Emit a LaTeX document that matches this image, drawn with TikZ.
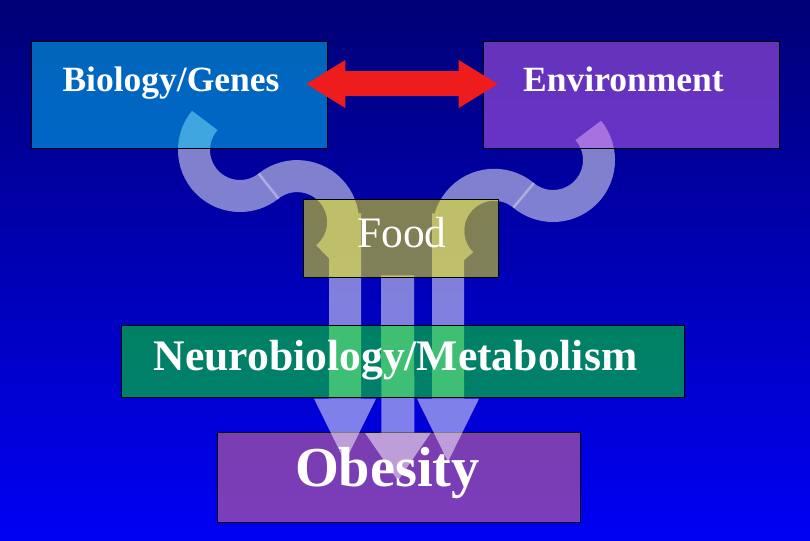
\documentclass[tikz,border=0pt]{standalone}
\usepackage{fontspec}
\setmainfont{Liberation Serif}
\usepackage{tikz}
\usetikzlibrary{arrows.meta, calc}
\pgfdeclarelayer{back}
\pgfsetlayers{back,main}
\definecolor{bgtop}{RGB}{0,0,118}
\definecolor{bgmid}{RGB}{0,0,205}
\definecolor{bgbot}{RGB}{0,0,245}
\definecolor{genecol}{RGB}{0,204,246}
\definecolor{envcol}{RGB}{204,102,246}
\definecolor{foodcol}{RGB}{255,255,0}
\definecolor{neurocol}{RGB}{0,255,4}
\definecolor{obecol}{RGB}{246,122,134}
\definecolor{redcol}{RGB}{238,28,28}
\tikzstyle{box} = [draw=black, line width=0.6pt, fill opacity=0.5, text opacity=1, inner sep=0pt]
\tikzstyle{lbl} = [text=white, anchor=base, inner sep=0pt]
\tikzstyle{band} = [draw=white, line width=32pt]
\tikzstyle{seam} = [draw=white, draw opacity=0.35, line width=2.5pt]
\tikzstyle{redarrow} = [draw=redcol, line width=25pt, {Triangle[length=39pt,width=48pt,line width=0pt]}-{Triangle[length=39pt,width=48pt,line width=0pt]}]
\tikzstyle{sidebar} = [draw=white, line width=32pt, -{Triangle[length=63pt,width=62pt,line width=0pt]}]
\tikzstyle{midbar} = [draw=white, line width=33pt, -{Triangle[length=48pt,width=66pt,line width=0pt]}]

\begin{document}
\begin{tikzpicture}[x=1pt, y=1pt]
    \useasboundingbox (0,0) rectangle (810,-540);

    % Boxes
    \node (bio) [box, fill=genecol, minimum width=296pt, minimum height=107pt] at (179,-94.5) {};
    \node (env) [box, fill=envcol, minimum width=296pt, minimum height=107pt] at (631,-94.5) {};
    \node (food) [box, fill=foodcol, minimum width=195pt, minimum height=78pt] at (400.5,-238) {};
    \node (neuro) [box, fill=neurocol, minimum width=563pt, minimum height=72pt] at (402.5,-361) {};

    % Labels
    \node (biotxt) [lbl, font=\fontsize{35.5pt}{40pt}\selectfont\bfseries] at ([xshift=-8pt,yshift=2.5pt]bio.center) {Biology/Genes};
    \node (envtxt) [lbl, font=\fontsize{35.5pt}{40pt}\selectfont\bfseries] at ([xshift=-7.5pt,yshift=2.5pt]env.center) {Environment};
    \node (foodtxt) [lbl, font=\fontsize{43.5pt}{48pt}\selectfont] at ([xshift=1.5pt,yshift=-9pt]food.center) {Food};
    \node (neurotxt) [lbl, font=\fontsize{43.6pt}{48pt}\selectfont\bfseries] at ([xshift=-7pt,yshift=-9pt]neuro.center) {Neurobiology/Metabolism};

    % Red arrow
    \draw[redarrow] ([xshift=-21pt,yshift=10.5pt]bio.east) -- ([xshift=15pt,yshift=10.5pt]env.west);

    \begin{pgfonlayer}{back}
    \shade[top color=bgtop, middle color=bgmid, bottom color=bgbot] (0,0) rectangle (810,-540);
    \node (obes) [box, fill=obecol, minimum width=363pt, minimum height=90pt] at (398.5,-477) {};
    % arc centres
    \coordinate (c1) at (240,-150);
    \coordinate (c2) at (297,-222);
    \coordinate (c3) at (553,-160);
    \coordinate (c4) at (494,-231);
    \begin{scope}[transparency group, opacity=0.5]
    \draw[band] (c1) ++(140:46pt) arc[start angle=140, end angle=308.4, radius=46pt]
        arc[start angle=128.4, end angle=-49, radius=46pt];
    \draw[band] (c3) ++(40:46pt) arc[start angle=40, end angle=-129.7, radius=46pt]
        arc[start angle=50.3, end angle=224, radius=46pt];
    \draw[sidebar] ([xshift=-55.5pt,yshift=64pt]food.south) -- ([xshift=-53.5pt,yshift=-30pt]obes.north);
    \draw[midbar] ([xshift=-3pt,yshift=2pt]food.south) -- ([xshift=-0.5pt,yshift=-49pt]obes.north);
    \draw[sidebar] ([xshift=47.5pt,yshift=64pt]food.south) -- ([xshift=49.5pt,yshift=-30pt]obes.north);
    \end{scope}
    \draw[seam] ($(c1)!30pt!(c2)$) -- ($(c1)!62pt!(c2)$);
    \draw[seam] ($(c3)!30pt!(c4)$) -- ($(c3)!62pt!(c4)$);
    \end{pgfonlayer}

    \node (obestxt) [lbl, font=\fontsize{56.4pt}{60pt}\selectfont\bfseries] at ([xshift=-11pt,yshift=-9pt]obes.center) {Obesity};
\end{tikzpicture}
\end{document}
